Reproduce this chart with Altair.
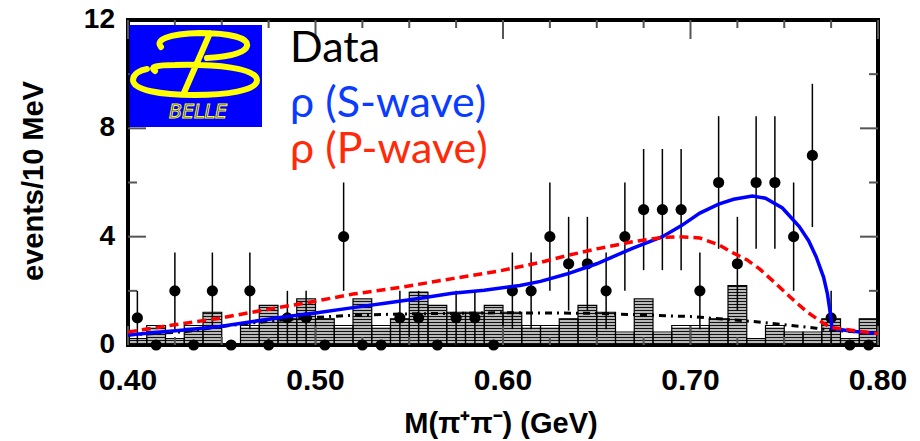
import altair as alt
import numpy as np
import pandas as pd

# ---------------- data ----------------
bin_centers = [0.405, 0.415, 0.425, 0.435, 0.445, 0.455, 0.465, 0.475, 0.485, 0.495,
               0.505, 0.515, 0.525, 0.535, 0.545, 0.555, 0.565, 0.575, 0.585, 0.595,
               0.605, 0.615, 0.625, 0.635, 0.645, 0.655, 0.665, 0.675, 0.685, 0.695,
               0.705, 0.715, 0.725, 0.735, 0.745, 0.755, 0.765, 0.775, 0.785, 0.795]
counts = [1, 0, 2, 0, 2, 0, 2, 0, 1, 1,
          0, 4, 0, 0, 1, 1, 0, 1, 1, 0,
          2, 2, 4, 3, 3, 2, 4, 5, 5, 5,
          2, 6, 3, 6, 6, 4, 7, 1, 0, 0]
# hatched background histogram (events / 10 MeV)
bkg_hist = [0.24, 0.72, 0.24, 0.72, 1.21, 0.00, 0.72, 1.46, 0.97, 1.70,
            0.97, 0.72, 1.70, 0.72, 0.97, 1.94, 1.46, 1.21, 1.21, 1.46,
            1.21, 0.72, 0.72, 0.97, 1.46, 1.21, 0.48, 1.70, 0.48, 0.72,
            0.72, 0.97, 2.19, 0.24, 0.72, 0.48, 0.48, 0.97, 0.24, 0.97]

# fit curves
s_wave_x = [0.400, 0.413, 0.430, 0.449, 0.465, 0.485, 0.500, 0.520, 0.538, 0.555,
            0.573, 0.590, 0.609, 0.620, 0.634, 0.650, 0.669, 0.685, 0.695, 0.705,
            0.715, 0.723, 0.733, 0.740, 0.749, 0.758, 0.763, 0.767, 0.771, 0.773,
            0.7745, 0.7755, 0.785, 0.800]
s_wave_y = [0.37, 0.45, 0.55, 0.68, 0.85, 1.05, 1.18, 1.38, 1.55, 1.72,
            1.91, 2.02, 2.20, 2.35, 2.62, 3.00, 3.57, 4.00, 4.40, 4.87,
            5.20, 5.38, 5.50, 5.42, 5.06, 4.37, 3.85, 3.26, 2.50, 1.90,
            1.20, 0.62, 0.52, 0.42]
p_wave_x = [0.400, 0.425, 0.448, 0.467, 0.480, 0.497, 0.520, 0.547, 0.573, 0.597,
            0.620, 0.634, 0.650, 0.669, 0.685, 0.694, 0.705, 0.715, 0.723, 0.730,
            0.737, 0.745, 0.753, 0.762, 0.771, 0.775, 0.785, 0.800]
p_wave_y = [0.48, 0.75, 0.98, 1.22, 1.38, 1.58, 1.88, 2.15, 2.45, 2.72,
            3.05, 3.30, 3.55, 3.81, 3.97, 4.00, 3.95, 3.70, 3.39, 3.15,
            2.80, 2.30, 1.78, 1.23, 0.80, 0.65, 0.55, 0.42]
bkg_x = [0.400, 0.430, 0.452, 0.464, 0.482, 0.500, 0.520, 0.550, 0.600, 0.650,
         0.700, 0.735, 0.767, 0.775, 0.785, 0.800]
bkg_y = [0.37, 0.49, 0.70, 0.80, 0.92, 1.02, 1.10, 1.15, 1.19, 1.17,
         1.05, 0.86, 0.62, 0.55, 0.50, 0.42]

x_tick_values = [0.40, 0.50, 0.60, 0.70, 0.80]
x_tick_labels = ["0.40", "0.50", "0.60", "0.70", "0.80"]
y_tick_values = [0, 4, 8, 12]
y_tick_labels = ["0", "4", "8", "12"]
x_minor_ticks = [0.425, 0.45, 0.475, 0.525, 0.55, 0.575, 0.625, 0.65, 0.675, 0.725, 0.75, 0.775]
y_major_ticks = [4, 8]
y_minor_ticks = [2, 6, 10]
x_title = "M(π⁺π⁻) (GeV)"
y_title = "events/10 MeV"

legend_labels = ["Data", "ρ (S-wave)", "ρ (P-wave)"]
legend_colors = ["#000000", "#0a3cff", "#ff2a0a"]

# ---------------- layout ----------------
W, H = 750, 325
BIN = 0.01
XS = alt.Scale(domain=[0.4, 0.8], nice=False, zero=False)
YS = alt.Scale(domain=[0, 12], nice=False, zero=True)
BOLD = "Liberation Sans, Arial, Helvetica, sans-serif"

pts = pd.DataFrame({"x": bin_centers, "n": counts})
pts["lo"] = pts["n"] - np.sqrt(pts["n"])
pts["hi"] = pts["n"] + np.sqrt(pts["n"])
err = pts[pts["n"] > 0]

hist = pd.DataFrame({"x0": [c - BIN / 2 for c in bin_centers],
                     "x1": [c + BIN / 2 for c in bin_centers],
                     "h": bkg_hist})
hatch_step = 12 / H * 3.0
rows = []
for x0, x1, h in zip(hist["x0"], hist["x1"], hist["h"]):
    yy = hatch_step / 2
    while yy < h:
        rows.append({"x0": x0, "x1": x1, "y": yy})
        yy += hatch_step
hatch = pd.DataFrame(rows)

hatch_layer = alt.Chart(hatch).mark_rule(color="#111111", strokeWidth=1.6).encode(
    x=alt.X("x0:Q", scale=XS, axis=None), x2="x1:Q",
    y=alt.Y("y:Q", scale=YS, axis=None))
hist_layer = alt.Chart(hist).mark_rect(fillOpacity=0, stroke="black", strokeWidth=1.2).encode(
    x=alt.X("x0:Q", scale=XS, axis=None), x2="x1:Q",
    y=alt.Y("h:Q", scale=YS, axis=None), y2=alt.datum(0))

err_layer = alt.Chart(err).mark_rule(color="black", strokeWidth=1.5).encode(
    x=alt.X("x:Q", scale=XS, axis=None),
    y=alt.Y("lo:Q", scale=YS, axis=None), y2="hi:Q")
pt_layer = alt.Chart(pts).mark_circle(color="black", size=125, opacity=1).encode(
    x=alt.X("x:Q", scale=XS, axis=None), y=alt.Y("n:Q", scale=YS, axis=None))

def curve(xs, ys, **kw):
    d = pd.DataFrame({"x": xs, "y": ys})
    return alt.Chart(d).mark_line(**kw).encode(
        x=alt.X("x:Q", scale=XS, axis=None), y=alt.Y("y:Q", scale=YS, axis=None))

bkg_layer = curve(bkg_x, bkg_y, color="black", strokeWidth=3, strokeDash=[7, 5, 2, 5])
s_layer = curve(s_wave_x, s_wave_y, color="#0000ff", strokeWidth=3.5)
p_layer = curve(p_wave_x, p_wave_y, color="#ff0000", strokeWidth=3.5, strokeDash=[9, 5])

# ticks inside the frame
def xticks(vals, length, top=True):
    d = pd.DataFrame({"x": vals})
    yv, y2v = (0, length) if top else (H, H - length)
    return alt.Chart(d).mark_rule(color="#555555", strokeWidth=2).encode(
        x=alt.X("x:Q", scale=XS, axis=None), y=alt.value(yv), y2=alt.value(y2v))

def yticks(vals, length, left=True):
    d = pd.DataFrame({"y": vals})
    xv, x2v = (0, length) if left else (W, W - length)
    return alt.Chart(d).mark_rule(color="#555555", strokeWidth=2).encode(
        y=alt.Y("y:Q", scale=YS, axis=None), x=alt.value(xv), x2=alt.value(x2v))

tick_layers = [xticks(x_tick_values, 19, True), xticks(x_minor_ticks, 8, True),
               xticks(x_tick_values, 19, False), xticks(x_minor_ticks, 8, False),
               yticks(y_major_ticks, 18, True), yticks(y_minor_ticks, 9, True),
               yticks(y_major_ticks, 18, False), yticks(y_minor_ticks, 9, False)]

# axis labels and titles as text
xl = pd.DataFrame({"v": x_tick_values, "t": x_tick_labels})
xlab_layer = alt.Chart(xl).mark_text(
    font=BOLD, fontWeight="bold", fontSize=30, color="black",
    align="center", baseline="alphabetic").encode(
    x=alt.X("v:Q", scale=XS, axis=None), y=alt.value(H + 45), text="t:N")
yl = pd.DataFrame({"v": y_tick_values, "t": y_tick_labels})
ylab_layer = alt.Chart(yl).mark_text(
    font=BOLD, fontWeight="bold", fontSize=28, color="black",
    align="right", baseline="middle").encode(
    y=alt.Y("v:Q", scale=YS, axis=None), x=alt.value(-13), text="t:N")

one = pd.DataFrame({"a": [0]})
xtitle_layer = alt.Chart(one).mark_text(
    text=x_title, font=BOLD, fontWeight="bold", fontSize=29, color="black",
    align="center", baseline="alphabetic").encode(
    x=alt.value(373), y=alt.value(H + 88))
ytitle_layer = alt.Chart(one).mark_text(
    text=y_title, font=BOLD, fontWeight="bold", fontSize=29, color="black",
    align="center", baseline="alphabetic", angle=270).encode(
    x=alt.value(-85), y=alt.value(161))

# Belle logo
logo_bg = alt.Chart(one).mark_rect(color="#0000ff").encode(
    x=alt.value(1.5), x2=alt.value(134), y=alt.value(5), y2=alt.value(107))

R = 65.0
def norm(path):
    out = []
    for tok in path.split():
        try:
            out.append("%.4f" % (float(tok) / R))
        except ValueError:
            out.append(tok)
    return " ".join(out)

b_path = norm(
    "M -34 -17 C -40 -24 -28 -30 5 -31 C 35 -31 54 -26 52 -18 C 50 -10 30 -7 12 -6 "
    "M -40 7 C -46 3 -38 1 -20 1 C 20 0 62 4 62 16 C 62 27 30 31 0 31 "
    "C -35 31 -62 26 -62 16 C -62 10 -55 6 -48 5 "
    "M 15 -31 L -12 31")
logo_b = alt.Chart(one).mark_point(
    shape=b_path, size=(2 * R) ** 2, filled=False, stroke="#ffff00",
    strokeWidth=6, opacity=1, strokeCap="round").encode(
    x=alt.value(67), y=alt.value(44))
logo_t = alt.Chart(one).mark_text(
    text="BELLE", font="DejaVu Sans", fontStyle="italic", fontSize=19,
    fill="#0000ff", stroke="#ffff00", strokeWidth=1, align="center",
    baseline="alphabetic").encode(x=alt.value(70), y=alt.value(98))

leg_y = [42, 97, 143]
leg_layers = []
for lab, col, yp in zip(legend_labels, legend_colors, leg_y):
    leg_layers.append(alt.Chart(one).mark_text(
        text=lab, color=col, font="Lato", fontSize=43, align="left",
        baseline="alphabetic").encode(x=alt.value(162), y=alt.value(yp)))

chart = alt.layer(
    hatch_layer, hist_layer, *tick_layers, err_layer, pt_layer,
    bkg_layer, s_layer, p_layer, logo_bg, logo_b, logo_t, *leg_layers,
    xlab_layer, ylab_layer, xtitle_layer, ytitle_layer
).properties(
    width=W, height=H,
    background="white",
    autosize=alt.AutoSizeParams(type="none"),
    padding={"left": 128, "top": 20, "right": 42, "bottom": 96},
).configure_view(stroke="black", strokeWidth=4)

chart.save("out.html", embed_options={"renderer": "svg", "actions": False})
